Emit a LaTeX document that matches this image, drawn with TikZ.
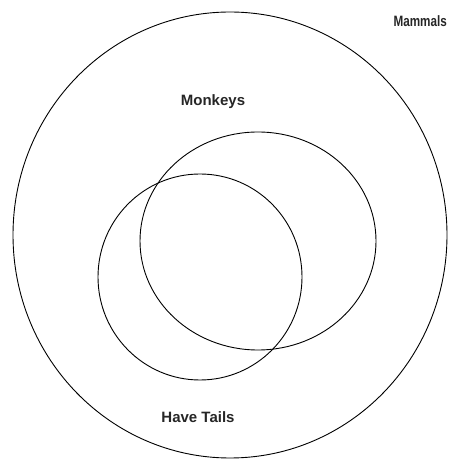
\documentclass[tikz,border=0pt]{standalone}
\usepackage{fontspec}
\setmainfont{Liberation Sans}
\begin{document}
\begin{tikzpicture}[x=1pt,y=1pt,
  setline/.style={draw=black,line width=0.9pt},
  lbl/.style={font=\fontsize{15}{15}\selectfont\bfseries,text=black!85,inner sep=0pt}]
\useasboundingbox (0,0) rectangle (449,460);
\draw[setline] (230,225) ellipse [x radius=217, y radius=223];
\draw[setline] (258,219) ellipse [x radius=118, y radius=109];
\draw[setline] (200,183) ellipse [x radius=102, y radius=103];
\node[lbl] (monkeys) at (213,358) {Monkeys};
\node[lbl] (tails) at (198,43) {Have Tails};
\node[lbl,anchor=east,xscale=0.78] (mammals) at (447,439) {Mammals};
\end{tikzpicture}
\end{document}
